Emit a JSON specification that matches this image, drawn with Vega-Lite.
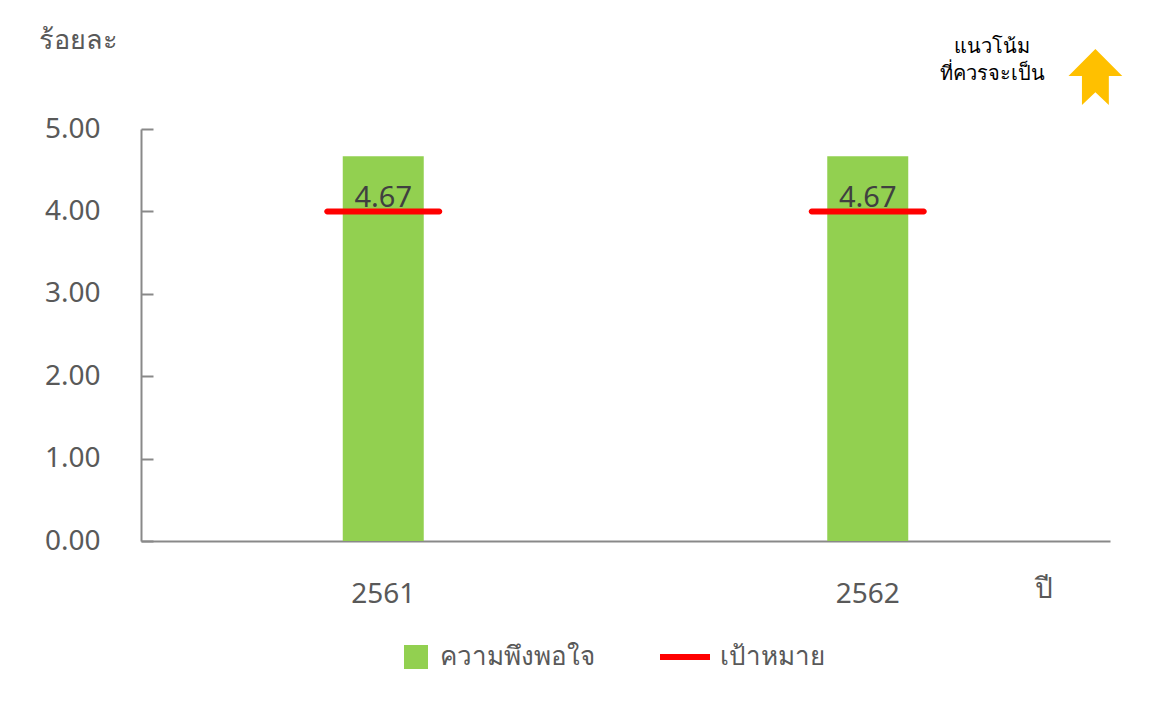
{
  "$schema": "https://vega.github.io/schema/vega-lite/v6.json",
  "width": 969,
  "height": 412,
  "autosize": "none",
  "padding": {"left": 141, "top": 129, "right": 54, "bottom": 174},
  "background": "white",
  "config": {
    "view": {"stroke": null},
    "font": "Noto Sans",
    "title": {"font": "Noto Sans"},
    "axis": {"labelFont": "Noto Sans", "titleFont": "Noto Sans"},
    "legend": {"labelFont": "Noto Sans"}
  },
  "title": {
    "text": ["แนวโน้ม", "ที่ควรจะเป็น"],
    "anchor": "end",
    "align": "center",
    "dx": -130,
    "offset": -58,
    "fontSize": 20,
    "fontWeight": "normal",
    "color": "#000000",
    "lineHeight": 27
  },
  "datasets": {
    "main": [
      {"year": "2561", "series": "ความพึงพอใจ", "value": 4.67},
      {"year": "2562", "series": "ความพึงพอใจ", "value": 4.67},
      {"year": "2561", "series": "เป้าหมาย", "value": 4.0},
      {"year": "2562", "series": "เป้าหมาย", "value": 4.0}
    ]
  },
  "data": {"name": "main"},
  "encoding": {
    "x": {
      "field": "year",
      "type": "nominal",
      "scale": {"paddingInner": 0, "paddingOuter": 0},
      "axis": {
        "title": "ปี",
        "titleX": 893,
        "titleY": 48,
        "titleAlign": "left",
        "titleBaseline": "middle",
        "titleFontSize": 28,
        "titleFontWeight": "normal",
        "titleColor": "#595959",
        "labelAngle": 0,
        "labelFontSize": 28,
        "labelColor": "#595959",
        "labelPadding": 39,
        "ticks": false,
        "domainColor": "#898989",
        "domainWidth": 2
      }
    }
  },
  "layer": [
    {
      "transform": [{"filter": "datum.series === 'ความพึงพอใจ'"}],
      "mark": {"type": "bar", "width": 81},
      "encoding": {
        "y": {
          "field": "value",
          "type": "quantitative",
          "scale": {"domain": [0, 5], "nice": false},
          "axis": {
            "values": [0, 1, 2, 3, 4, 5],
            "format": ".2f",
            "grid": false,
            "title": "ร้อยละ",
            "titleAngle": 0,
            "titleX": -103,
            "titleY": -89,
            "titleAlign": "left",
            "titleBaseline": "middle",
            "titleFontSize": 27,
            "titleFontWeight": "normal",
            "titleColor": "#595959",
            "labelFontSize": 28,
            "labelColor": "#595959",
            "labelPadding": 53,
            "tickSize": -12,
            "tickColor": "#898989",
            "tickWidth": 2,
            "domainColor": "#898989",
            "domainWidth": 2
          }
        },
        "color": {
          "field": "series",
          "type": "nominal",
          "scale": {"domain": ["ความพึงพอใจ", "เป้าหมาย"], "range": ["#92D050", "#FF0000"]},
          "legend": {
            "title": null,
            "orient": "none",
            "direction": "horizontal",
            "legendX": 251,
            "legendY": 515,
            "labelFontSize": 26,
            "labelColor": "#595959",
            "labelOffset": 22,
            "labelLimit": 400,
            "columnPadding": 53,
            "symbolSize": 2500,
            "encode": {
              "symbols": {
                "update": {
                  "shape": {"signal": "datum.value === 'เป้าหมาย' ? 'stroke' : 'M-0.04,-0.48H0.92V0.48H-0.04Z'"},
                  "size": {"value": 2500},
                  "stroke": {"signal": "datum.value === 'เป้าหมาย' ? '#FF0000' : '#92D050'"},
                  "strokeWidth": {"signal": "datum.value === 'เป้าหมาย' ? 6 : 0"},
                  "fill": {"signal": "datum.value === 'เป้าหมาย' ? '#FF0000' : '#92D050'"},
                  "opacity": {"value": 1}
                }
              }
            }
          }
        }
      }
    },
    {
      "transform": [{"filter": "datum.series === 'เป้าหมาย'"}],
      "mark": {"type": "tick", "size": 118, "thickness": 6, "cornerRadius": 3, "opacity": 1},
      "encoding": {
        "y": {"field": "value", "type": "quantitative"},
        "color": {"field": "series", "type": "nominal"}
      }
    },
    {
      "transform": [{"filter": "datum.series === 'ความพึงพอใจ'"}],
      "mark": {"type": "text", "dy": 42, "fontSize": 29, "color": "#404040", "baseline": "middle"},
      "encoding": {
        "y": {"field": "value", "type": "quantitative"},
        "text": {"field": "value", "type": "quantitative", "format": ".2f"}
      }
    },
    {
      "data": {"values": [{"marker": "trend"}]},
      "mark": {
        "type": "point",
        "filled": true,
        "opacity": 1,
        "color": "#FFC000",
        "size": 3136,
        "shape": "M8.13,-1L9.09,-0.04L8.61,-0.04L8.61,1L8.13,0.54L7.65,1L7.65,-0.04L7.17,-0.04Z"
      },
      "encoding": {
        "x": {"datum": "2562"},
        "y": {"datum": 5.63}
      }
    }
  ]
}
